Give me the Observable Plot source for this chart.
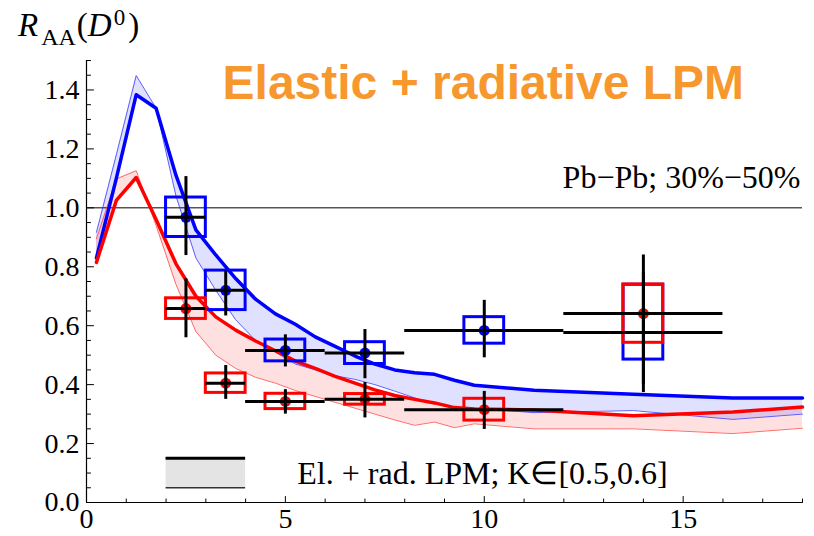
<!DOCTYPE html>
<html>
<head>
<meta charset="utf-8">
<script src="https://cdn.jsdelivr.net/npm/d3@7"></script>
<script src="https://cdn.jsdelivr.net/npm/@observablehq/plot@0.6"></script>
<style>
  body { margin: 0; background: #fff; }
  #chart svg { display: block; }
</style>
</head>
<body>
<div id="chart"></div>
<script>
// ---- model curves (pT grid, GeV) ----
const ptGrid     = [0.25, 0.75, 1.25, 1.75, 2.25, 2.75, 3.25, 3.75, 4.25, 4.75, 5.25, 5.75, 6.25, 6.75, 7.25, 7.75, 8.25, 8.75, 9.25, 9.75, 11.25, 13.75, 16.25, 18];
const blueThick  = [0.83, 1.10, 1.384, 1.338, 1.11, 0.925, 0.84, 0.76, 0.69, 0.64, 0.605, 0.562, 0.53, 0.497, 0.47, 0.45, 0.44, 0.435, 0.415, 0.398, 0.381, 0.367, 0.355, 0.355];
const blueThin   = [0.917, 1.18, 1.449, 1.338, 1.04, 0.83, 0.72, 0.62, 0.55, 0.51, 0.47, 0.45, 0.43, 0.418, 0.40, 0.378, 0.355, 0.335, 0.324, 0.32, 0.305, 0.312, 0.282, 0.30];
const redThick   = [0.815, 1.025, 1.103, 0.96, 0.81, 0.70, 0.63, 0.585, 0.548, 0.515, 0.48, 0.455, 0.428, 0.405, 0.382, 0.363, 0.35, 0.338, 0.322, 0.317, 0.314, 0.294, 0.307, 0.324];
const redThin    = [0.895, 1.098, 1.126, 0.94, 0.74, 0.58, 0.50, 0.455, 0.425, 0.405, 0.38, 0.36, 0.34, 0.32, 0.30, 0.28, 0.262, 0.273, 0.254, 0.267, 0.25, 0.25, 0.234, 0.252];

// ---- data points ----
const dataPt     = [2.5, 3.5, 5, 7, 10, 14];
const binLo      = [2, 3, 4, 6, 8, 12];
const binHi      = [3, 4, 6, 8, 12, 16];
const boxHalfW   = 0.5;

const blueY       = [0.968, 0.72, 0.516, 0.507, 0.584, 0.577];
const blueStatLo  = [0.838, 0.633, 0.46, 0.42, 0.491, 0.40];
const blueStatHi  = [1.106, 0.785, 0.569, 0.587, 0.686, 0.78];
const blueSysDown = [0.067, 0.067, 0.037, 0.037, 0.045, 0.092];
const blueSysUp   = [0.067, 0.067, 0.037, 0.037, 0.045, 0.162];
const blueDotShown = [true, true, true, true, true, false];

const redY        = [0.658, 0.405, 0.343, 0.35, 0.315, 0.641];
const redStatLo   = [0.559, 0.35, 0.30, 0.287, 0.248, 0.373];
const redStatHi   = [0.759, 0.465, 0.383, 0.407, 0.377, 0.84];
const redSysDown  = [0.035, 0.033, 0.026, 0.018, 0.037, 0.099];
const redSysUp    = [0.035, 0.033, 0.026, 0.018, 0.037, 0.099];

// ---- axes ----
const yMajorTicks = [0, 0.2, 0.4, 0.6, 0.8, 1.0, 1.2, 1.4];
const yMinorTicks = d3.range(0, 31).map(i => +(i * 0.05).toFixed(2)).filter(v => !yMajorTicks.includes(v));
const xMajorTicks = [0, 5, 10, 15];
const xMinorTicks = d3.range(0, 19).filter(v => !xMajorTicks.includes(v));

// ---- legend & labels ----
const legendX     = [2, 4];
const legendYTop  = 0.15;
const legendYBot  = 0.05;
const legendLabel = "El. + rad. LPM; K\u2208[0.5,0.6]";
const legendLabelPos = {x: 5.3, y: 0.062};
const titleText   = "Elastic + radiative LPM";
const titlePos    = {x: 3.42, y: 1.371};
const systemText  = "Pb\u2212Pb; 30%\u221250%";
const systemPos   = {x: 17.95, y: 1.066};

const curves = ptGrid.map((pt, i) => ({pt, bHi: blueThick[i], bLo: blueThin[i], rHi: redThick[i], rLo: redThin[i]}));
const mk = (Y, lo, hi, sd, su) => dataPt.map((x, i) => ({x, y: Y[i], lo: lo[i], hi: hi[i], sd: sd[i], su: su[i], xl: binLo[i], xh: binHi[i], i}));
const bluePts = mk(blueY, blueStatLo, blueStatHi, blueSysDown, blueSysUp);
const redPts  = mk(redY, redStatLo, redStatHi, redSysDown, redSysUp);
const legendRows = legendX.map(x => ({x}));

const tickRight = {draw(ctx, l) { ctx.moveTo(0, 0); ctx.lineTo(l, 0); }};
const tickUp    = {draw(ctx, l) { ctx.moveTo(0, 0); ctx.lineTo(0, -l); }};

const serif = "'Liberation Serif', 'Times New Roman', serif";

const chart = Plot.plot({
  width: 814,
  height: 536,
  marginLeft: 86,
  marginRight: 12,
  marginTop: 60,
  marginBottom: 34,
  x: {domain: [0, 18]},
  y: {domain: [0, 1.5]},
  style: {fontFamily: serif, fontSize: "28px", background: "#fff", overflow: "visible", color: "#000"},
  marks: [
    // bands
    Plot.areaY(curves, {x: "pt", y1: "rLo", y2: "rHi", fill: "red", fillOpacity: 0.12}),
    Plot.areaY(curves, {x: "pt", y1: "bLo", y2: "bHi", fill: "blue", fillOpacity: 0.12}),
    // legend swatch
    Plot.areaY(legendRows, {x: "x", y1: legendYBot, y2: legendYTop, fill: "#e4e4e4"}),
    Plot.ruleY([legendYTop], {x1: legendX[0], x2: legendX[1], stroke: "#000", strokeWidth: 3}),
    Plot.ruleY([legendYBot], {x1: legendX[0], x2: legendX[1], stroke: "#333", strokeWidth: 1.5}),
    // reference line
    Plot.ruleY([1], {stroke: "#000", strokeWidth: 1}),
    // thin edges
    Plot.line(curves, {x: "pt", y: "bLo", stroke: "#3b3bff", strokeWidth: 1, strokeOpacity: 0.8}),
    Plot.line(curves, {x: "pt", y: "rLo", stroke: "#ff4a4a", strokeWidth: 1, strokeOpacity: 0.8}),
    // thick edges
    Plot.line(curves, {x: "pt", y: "bHi", stroke: "#0000ff", strokeWidth: 3.5}),
    Plot.line(curves, {x: "pt", y: "rHi", stroke: "#ff0000", strokeWidth: 3.5}),
    // systematic boxes
    Plot.rect(bluePts, {x1: d => d.x - boxHalfW, x2: d => d.x + boxHalfW, y1: d => d.y - d.sd, y2: d => d.y + d.su, fill: "none", stroke: "#0000ff", strokeWidth: 3}),
    Plot.rect(redPts, {x1: d => d.x - boxHalfW, x2: d => d.x + boxHalfW, y1: d => d.y - d.sd, y2: d => d.y + d.su, fill: "none", stroke: "#ff0000", strokeWidth: 3}),
    // points
    Plot.dot(bluePts.filter(d => blueDotShown[d.i]), {x: "x", y: "y", r: 5.5, fill: "#0000ff", stroke: "none"}),
    Plot.dot(redPts, {x: "x", y: "y", r: 5.5, fill: "#ff0000", stroke: "none"}),
    // stat error bars
    Plot.ruleX(bluePts, {x: "x", y1: "lo", y2: "hi", stroke: "#000", strokeWidth: 3}),
    Plot.ruleY(bluePts, {y: "y", x1: "xl", x2: "xh", stroke: "#000", strokeWidth: 3}),
    Plot.ruleX(redPts, {x: "x", y1: "lo", y2: "hi", stroke: "#000", strokeWidth: 3}),
    Plot.ruleY(redPts, {y: "y", x1: "xl", x2: "xh", stroke: "#000", strokeWidth: 3}),
    // axes lines
    Plot.ruleX([0], {stroke: "#000", strokeWidth: 1.2}),
    Plot.ruleY([0], {stroke: "#000", strokeWidth: 1.2}),
    // inward ticks
    Plot.vector(yMajorTicks, {x: 0, y: d => d, length: 7, shape: tickRight, anchor: "start", stroke: "#000", strokeWidth: 1}),
    Plot.vector(yMinorTicks, {x: 0, y: d => d, length: 4, shape: tickRight, anchor: "start", stroke: "#000", strokeWidth: 1}),
    Plot.vector(xMajorTicks, {x: d => d, y: 0, length: 6, shape: tickUp, anchor: "start", stroke: "#000", strokeWidth: 1}),
    Plot.vector(xMinorTicks, {x: d => d, y: 0, length: 3.5, shape: tickUp, anchor: "start", stroke: "#000", strokeWidth: 1}),
    // tick labels
    Plot.axisY({ticks: yMajorTicks, tickSize: 0, tickPadding: 7, tickFormat: d3.format(".1f"), label: null, fontSize: 28}),
    Plot.axisX({ticks: xMajorTicks, tickSize: 0, tickPadding: 6, tickFormat: d3.format("d"), label: null, fontSize: 28}),
    // annotations
    Plot.text([titleText], {x: titlePos.x, y: titlePos.y, text: d => d, textAnchor: "start", lineAnchor: "bottom", fontFamily: "'Liberation Sans', Arial, sans-serif", fontWeight: "bold", fontSize: 48, fill: "#f7982f"}),
    Plot.text([systemText], {x: systemPos.x, y: systemPos.y, text: d => d, textAnchor: "end", lineAnchor: "bottom", fontFamily: serif, fontSize: 32, fill: "#000"}),
    Plot.text([legendLabel], {x: legendLabelPos.x, y: legendLabelPos.y, text: d => d, textAnchor: "start", lineAnchor: "bottom", fontFamily: serif, fontSize: 32, fill: "#000"})
  ]
});

// y-axis title: R_AA(D^0)
const svg = d3.select(chart);
const t = svg.append("text")
  .attr("x", 18).attr("y", 36)
  .attr("text-anchor", "start")
  .attr("font-family", serif).attr("font-size", 33).attr("fill", "#000");
t.append("tspan").attr("font-style", "italic").text("R");
t.append("tspan").attr("font-size", 24).attr("dx", 3).attr("dy", 9).text("AA");
t.append("tspan").attr("dy", -9).attr("dx", 1).text("(");
t.append("tspan").attr("font-style", "italic").text("D");
t.append("tspan").attr("font-size", 23).attr("dx", 2).attr("dy", -11).text("0");
t.append("tspan").attr("dy", 11).attr("dx", 3).text(")");

document.getElementById("chart").append(chart);
</script>
</body>
</html>
